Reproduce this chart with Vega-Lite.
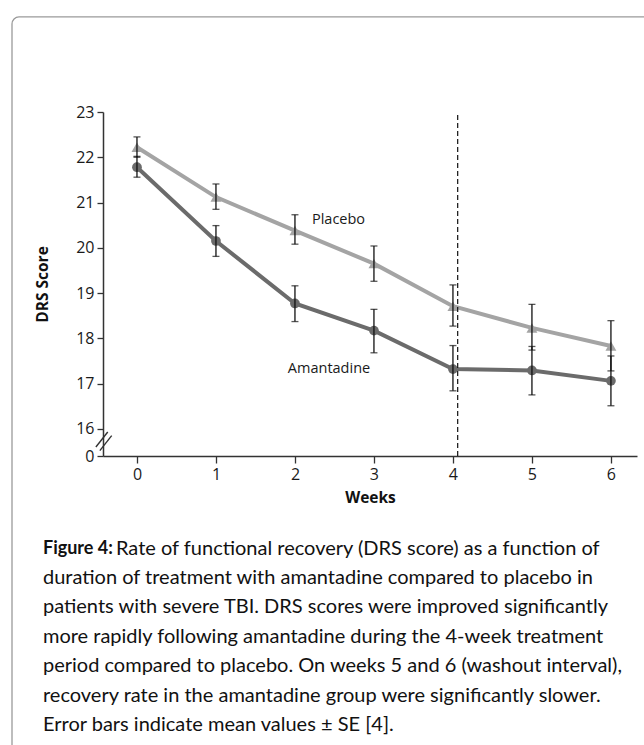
{
  "$schema": "https://vega.github.io/schema/vega-lite/v6.json",
  "width": 534,
  "height": 344,
  "autosize": {"type": "none"},
  "padding": {"left": 103, "top": 112, "right": 7, "bottom": 289},
  "background": "white",
  "config": {
    "view": {"stroke": null},
    "font": "Open Sans",
    "axis": {
      "grid": false, "domainColor": "#333", "domainWidth": 1.5,
      "tickColor": "#333", "tickWidth": 1.3,
      "labelFont": "Open Sans", "labelFontSize": 16, "labelColor": "#1a1a1a",
      "titleFont": "Open Sans", "titleFontSize": 15.5, "titleFontWeight": "bold", "titleColor": "#111"
    },
    "axisX": {"tickSize": 7, "labelPadding": 3, "titlePadding": 8},
    "axisY": {"tickSize": 6, "labelPadding": 3, "titlePadding": 25}
  },
  "datasets": {
    "series": [
      {"week": 0, "group": "Placebo", "val": 22.22, "lo": 22.0, "hi": 22.45},
      {"week": 1, "group": "Placebo", "val": 21.12, "lo": 20.85, "hi": 21.41},
      {"week": 2, "group": "Placebo", "val": 20.38, "lo": 20.08, "hi": 20.73},
      {"week": 3, "group": "Placebo", "val": 19.65, "lo": 19.26, "hi": 20.04},
      {"week": 4, "group": "Placebo", "val": 18.71, "lo": 18.27, "hi": 19.18},
      {"week": 5, "group": "Placebo", "val": 18.23, "lo": 17.74, "hi": 18.75},
      {"week": 6, "group": "Placebo", "val": 17.83, "lo": 17.28, "hi": 18.39},
      {"week": 0, "group": "Amantadine", "val": 21.78, "lo": 21.56, "hi": 22.02},
      {"week": 1, "group": "Amantadine", "val": 20.15, "lo": 19.81, "hi": 20.49},
      {"week": 2, "group": "Amantadine", "val": 18.77, "lo": 18.37, "hi": 19.16},
      {"week": 3, "group": "Amantadine", "val": 18.17, "lo": 17.68, "hi": 18.64},
      {"week": 4, "group": "Amantadine", "val": 17.32, "lo": 16.84, "hi": 17.84},
      {"week": 5, "group": "Amantadine", "val": 17.29, "lo": 16.75, "hi": 17.82},
      {"week": 6, "group": "Amantadine", "val": 17.06, "lo": 16.51, "hi": 17.61}
    ],
    "frame": [{"week": -1.582, "week2": 7.2, "val": 25.1, "val2": 4.0}],
    "dash": [{"week": 4.06, "val": 15.4, "val2": 23}],
    "brk": [
      {"week": -0.52, "week2": -0.37, "val": 15.6, "val2": 15.93},
      {"week": -0.47, "week2": -0.32, "val": 15.52, "val2": 15.85}
    ],
    "labels": [
      {"week": 2.215, "val": 20.61, "text": "Placebo"},
      {"week": 1.91, "val": 17.32, "text": "Amantadine"}
    ],
    "caphead": [{"week": -1.19, "val": 13.35, "text": "Figure 4:"}],
    "capbody": [
      {"week": -0.266, "val": 13.35, "text": "Rate of functional recovery (DRS score) as a function of"},
      {"week": -1.19, "val": 12.7, "text": "duration of treatment with amantadine compared to placebo in"},
      {"week": -1.19, "val": 12.053, "text": "patients with severe TBI. DRS scores were improved significantly"},
      {"week": -1.19, "val": 11.41, "text": "more rapidly following amantadine during the 4-week treatment"},
      {"week": -1.19, "val": 10.765, "text": "period compared to placebo. On weeks 5 and 6 (washout interval),"},
      {"week": -1.19, "val": 10.102, "text": "recovery rate in the amantadine group were significantly slower."},
      {"week": -1.19, "val": 9.45, "text": "Error bars indicate mean values ± SE [4]."}
    ]
  },
  "layer": [
    {
      "data": {"name": "series"},
      "mark": {"type": "line", "strokeWidth": 4},
      "encoding": {
        "x": {
          "field": "week", "type": "quantitative", "title": "Weeks",
          "scale": {"domain": [-0.43, 6.33], "nice": false, "zero": false},
          "axis": {"values": [0, 1, 2, 3, 4, 5, 6], "format": "d"}
        },
        "y": {
          "field": "val", "type": "quantitative", "title": "DRS Score",
          "scale": {"domain": [15.4, 23], "nice": false, "zero": false},
          "axis": {
            "values": [15.4, 16, 17, 18, 19, 20, 21, 22, 23],
            "labelExpr": "datum.value < 15.5 ? '0' : format(datum.value, 'd')"
          }
        },
        "color": {
          "field": "group", "type": "nominal",
          "scale": {"domain": ["Placebo", "Amantadine"], "range": ["#a4a4a4", "#6b6b6b"]},
          "legend": null
        }
      }
    },
    {
      "data": {"name": "series"},
      "mark": {"type": "point", "filled": true, "opacity": 1},
      "encoding": {
        "x": {"field": "week", "type": "quantitative", "title": "Weeks"},
        "y": {"field": "val", "type": "quantitative", "title": "DRS Score"},
        "color": {"field": "group", "type": "nominal", "legend": null},
        "shape": {
          "field": "group", "type": "nominal",
          "scale": {"domain": ["Placebo", "Amantadine"], "range": ["triangle-up", "circle"]},
          "legend": null
        },
        "size": {
          "field": "group", "type": "nominal",
          "scale": {"domain": ["Placebo", "Amantadine"], "range": [120, 95]},
          "legend": null
        }
      }
    },
    {
      "data": {"name": "series"},
      "mark": {"type": "errorbar", "ticks": {"size": 7, "thickness": 1.3, "color": "#111"}, "rule": {"strokeWidth": 1.3, "color": "#111"}, "color": "#111"},
      "encoding": {
        "x": {"field": "week", "type": "quantitative", "title": "Weeks"},
        "y": {"field": "lo", "type": "quantitative", "title": "DRS Score"},
        "y2": {"field": "hi"}
      }
    },
    {
      "data": {"name": "dash"},
      "mark": {"type": "rule", "strokeDash": [5, 3], "strokeWidth": 1.2, "color": "#111"},
      "encoding": {
        "x": {"field": "week", "type": "quantitative", "title": "Weeks"},
        "y": {"field": "val", "type": "quantitative", "title": "DRS Score"},
        "y2": {"field": "val2"}
      }
    },
    {
      "data": {"name": "brk"},
      "mark": {"type": "rule", "strokeWidth": 1.4, "color": "#333"},
      "encoding": {
        "x": {"field": "week", "type": "quantitative", "title": "Weeks"},
        "x2": {"field": "week2"},
        "y": {"field": "val", "type": "quantitative", "title": "DRS Score"},
        "y2": {"field": "val2"}
      }
    },
    {
      "data": {"name": "labels"},
      "mark": {"type": "text", "align": "left", "baseline": "middle", "font": "Open Sans", "fontSize": 14.5, "color": "#1a1a1a"},
      "encoding": {
        "x": {"field": "week", "type": "quantitative", "title": "Weeks"},
        "y": {"field": "val", "type": "quantitative", "title": "DRS Score"},
        "text": {"field": "text"}
      }
    },
    {
      "data": {"name": "frame"},
      "mark": {"type": "rect", "fill": null, "stroke": "#9a9a9a", "strokeWidth": 1.3, "cornerRadius": 7},
      "encoding": {
        "x": {"field": "week", "type": "quantitative", "title": "Weeks"},
        "x2": {"field": "week2"},
        "y": {"field": "val", "type": "quantitative", "title": "DRS Score"},
        "y2": {"field": "val2"}
      }
    },
    {
      "data": {"name": "caphead"},
      "mark": {"type": "text", "align": "left", "baseline": "middle", "font": "Lato", "fontSize": 18, "fontWeight": "bold", "color": "#111"},
      "encoding": {
        "x": {"field": "week", "type": "quantitative", "title": "Weeks"},
        "y": {"field": "val", "type": "quantitative", "title": "DRS Score"},
        "text": {"field": "text"}
      }
    },
    {
      "data": {"name": "capbody"},
      "mark": {"type": "text", "align": "left", "baseline": "middle", "font": "Lato", "fontSize": 20, "color": "#111"},
      "encoding": {
        "x": {"field": "week", "type": "quantitative", "title": "Weeks"},
        "y": {"field": "val", "type": "quantitative", "title": "DRS Score"},
        "text": {"field": "text"}
      }
    }
  ]
}
